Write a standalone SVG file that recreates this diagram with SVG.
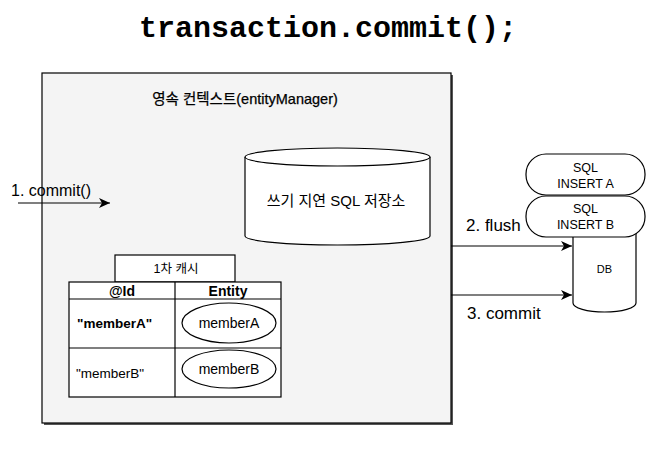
<svg xmlns="http://www.w3.org/2000/svg" width="650" height="469" viewBox="0 0 650 469">
<defs>
<style>
text{font-family:"Liberation Sans","Noto Sans CJK KR",Arial,sans-serif;fill:#000}
.mono{font-family:"Liberation Mono","Courier New",monospace;font-weight:bold}
.ln{stroke:#000;stroke-width:1.2;fill:none}
.wf{fill:#fff;stroke:#000;stroke-width:1.2}
.b{font-weight:bold}
</style>
<marker id="ah" markerWidth="12" markerHeight="10" refX="11" refY="5" orient="auto" markerUnits="userSpaceOnUse">
<path d="M0,0 L11,5 L0,10 L3,5 Z" fill="#000"/>
</marker>
</defs>
<rect width="650" height="469" fill="#fff"/>
<text class="mono" x="328" y="37" font-size="30" text-anchor="middle">transaction.commit();</text>

<g id="persistence-context">
<rect x="44" y="75" width="409" height="350" fill="#555"/>
<rect x="42" y="73" width="409" height="350" fill="#f4f4f4" stroke="#000" stroke-width="1.2"/>
<text x="245" y="104" font-size="14.5" text-anchor="middle" stroke="#000" stroke-width="0.25">영속 컨텍스트(entityManager)</text>
</g>

<g id="write-behind-store">
<path class="wf" d="M245,157 L245,236 A92.5,9 0 0 0 430,236 L430,157"/>
<ellipse class="wf" cx="337.5" cy="157" rx="92.5" ry="9"/>
<text x="336" y="206" font-size="15" text-anchor="middle">쓰기 지연 SQL 저장소</text>
</g>

<g id="cache-label">
<rect class="wf" x="115" y="255" width="120" height="27"/>
<text x="176" y="273" font-size="12.5" text-anchor="middle">1차 캐시</text>
</g>

<g id="cache-table">
<rect class="wf" x="69" y="282" width="212" height="115"/>
<line class="ln" x1="69" y1="299" x2="281" y2="299"/>
<line class="ln" x1="69" y1="348" x2="281" y2="348"/>
<line class="ln" x1="175" y1="282" x2="175" y2="397"/>
<text class="b" x="122" y="296" font-size="14" text-anchor="middle">@Id</text>
<text class="b" x="228" y="296" font-size="14" text-anchor="middle">Entity</text>
<text class="b" x="77" y="328" font-size="13.5">"memberA"</text>
<text x="76" y="378" font-size="13.5">"memberB"</text>
</g>

<g id="entity-memberA">
<ellipse class="wf" cx="229" cy="323" rx="47" ry="20"/>
<text x="229" y="328" font-size="14" text-anchor="middle">memberA</text>
</g>
<g id="entity-memberB">
<ellipse class="wf" cx="229" cy="369" rx="47" ry="19"/>
<text x="229" y="374" font-size="14" text-anchor="middle">memberB</text>
</g>

<g id="db">
<path class="wf" d="M573,225 L573,303 A31.5,9 0 0 0 636,303 L636,225"/>
<text x="604.5" y="273" font-size="11" text-anchor="middle">DB</text>
</g>

<g id="sql-insert-a">
<rect class="wf" x="526" y="154" width="119" height="41" rx="20" ry="20"/>
<text x="585.5" y="172" font-size="12.5" text-anchor="middle">SQL</text>
<text x="585.5" y="188" font-size="12.5" text-anchor="middle">INSERT A</text>
</g>
<g id="sql-insert-b">
<rect class="wf" x="526" y="196" width="119" height="41" rx="20" ry="20"/>
<text x="585.5" y="213" font-size="12.5" text-anchor="middle">SQL</text>
<text x="585.5" y="229" font-size="12.5" text-anchor="middle">INSERT B</text>
</g>

<g id="connectors">
<line class="ln" x1="18" y1="203" x2="110" y2="203" marker-end="url(#ah)"/>
<line class="ln" x1="451" y1="246" x2="572" y2="246" marker-end="url(#ah)"/>
<line class="ln" x1="451" y1="295" x2="572" y2="295" marker-end="url(#ah)"/>
<text x="11" y="196" font-size="16">1. commit()</text>
<text x="466" y="231" font-size="17">2. flush</text>
<text x="467" y="319" font-size="17">3. commit</text>
</g>
</svg>
